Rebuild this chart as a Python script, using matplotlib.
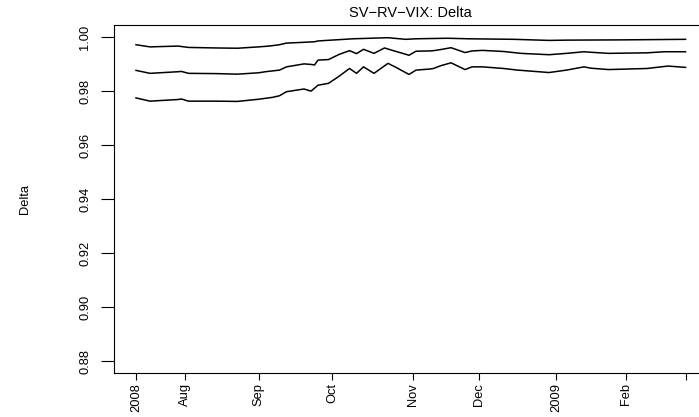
import matplotlib
matplotlib.use("Agg")
import matplotlib.pyplot as plt
from matplotlib import font_manager

upper_day = [0, 4, 12, 15, 23, 29, 35, 38, 41, 43, 48, 51, 52, 57, 62, 72, 77, 80, 89, 95,
             108, 118, 123, 139, 157]
upper = [0.9973, 0.9965, 0.9968, 0.9963, 0.9961, 0.9960, 0.9965, 0.9968, 0.9973, 0.9979,
         0.9982, 0.9984, 0.9987, 0.9991, 0.9995, 0.9999, 0.9993, 0.9995, 0.9997, 0.9995,
         0.9993, 0.9989, 0.9990, 0.9991, 0.9993]

mid_day = [0, 4, 12, 13, 15, 23, 29, 35, 37, 41, 43, 48, 50, 51, 52, 55, 58, 61, 63, 65,
           68, 71, 73, 78, 80, 84, 85, 87, 90, 94, 96, 99, 105, 110, 118, 123, 128, 130,
           135, 146, 151, 157]
mid = [0.9878, 0.9867, 0.9873, 0.9874, 0.9867, 0.9866, 0.9864, 0.9869, 0.9873, 0.9879,
       0.9891, 0.9902, 0.9900, 0.9898, 0.9916, 0.9918, 0.9937, 0.9951, 0.9940, 0.9956,
       0.9941, 0.9961, 0.9953, 0.9934, 0.9949, 0.9950, 0.9951, 0.9955, 0.9962, 0.9944,
       0.9950, 0.9952, 0.9948, 0.9941, 0.9936, 0.9941, 0.9947, 0.9945, 0.9941, 0.9943,
       0.9947, 0.9947]

lower_day = [0, 4, 12, 13, 15, 23, 29, 35, 39, 41, 43, 48, 50, 52, 55, 58, 61, 63, 65, 68,
             72, 74, 78, 80, 84, 85, 87, 90, 94, 96, 99, 105, 109, 118, 123, 128, 130, 135,
             146, 152, 157]
lower = [0.9776, 0.9764, 0.9770, 0.9772, 0.9764, 0.9764, 0.9763, 0.9771, 0.9778, 0.9784,
         0.9799, 0.9809, 0.9801, 0.9823, 0.9830, 0.9856, 0.9885, 0.9867, 0.9891, 0.9867,
         0.9904, 0.9891, 0.9863, 0.9879, 0.9883, 0.9885, 0.9895, 0.9906, 0.9881, 0.9891,
         0.9891, 0.9885, 0.9879, 0.9870, 0.9879, 0.9891, 0.9886, 0.9881, 0.9885, 0.9894,
         0.9889]

x_ticks = [0, 14, 35, 56, 79, 98, 120, 140, 157]
x_labels = ['2008', 'Aug', 'Sep', 'Oct', 'Nov', 'Dec', '2009', 'Feb', '']
y_ticks = [0.88, 0.90, 0.92, 0.94, 0.96, 0.98, 1.00]

installed = {f.name for f in font_manager.fontManager.ttflist}
narrow = 'Liberation Sans Narrow' if 'Liberation Sans Narrow' in installed else 'Liberation Sans'
lab_size = 11 if narrow == 'Liberation Sans Narrow' else 9.3

fig = plt.figure(figsize=(6.99, 4.17), dpi=100)
# the R plot region runs past the right edge of the saved picture
ax = fig.add_axes([0.1631, 0.1062, 0.8491, 0.8338])

for d, v in [(upper_day, upper), (mid_day, mid), (lower_day, lower)]:
    ax.plot(d, v, color='black', lw=1.1)

ax.set_xlim(-6.28, 163.28)
ax.set_ylim(0.8758, 1.0046)

ax.set_xticks(x_ticks)
ax.set_xticklabels(x_labels, rotation=90, fontfamily=narrow, fontsize=lab_size)
ax.set_yticks(y_ticks)
ax.set_yticklabels(['%.2f' % t for t in y_ticks], rotation=90, va='center',
                   fontfamily=narrow, fontsize=lab_size)
ax.tick_params(axis='y', length=9.4, width=0.8, pad=7)
ax.tick_params(axis='x', length=5, width=0.8, pad=2.5)

for s in ax.spines.values():
    s.set_linewidth(0.8)

ax.set_title('SV\u2212RV\u2212VIX: Delta', fontfamily='Liberation Sans', fontsize=10.5, pad=5.5)
fig.text(25 / 699, 1 - 199 / 417, 'Delta', rotation=90, ha='center', va='center',
         fontfamily=narrow, fontsize=lab_size)

fig.savefig('out.png', dpi=100)
